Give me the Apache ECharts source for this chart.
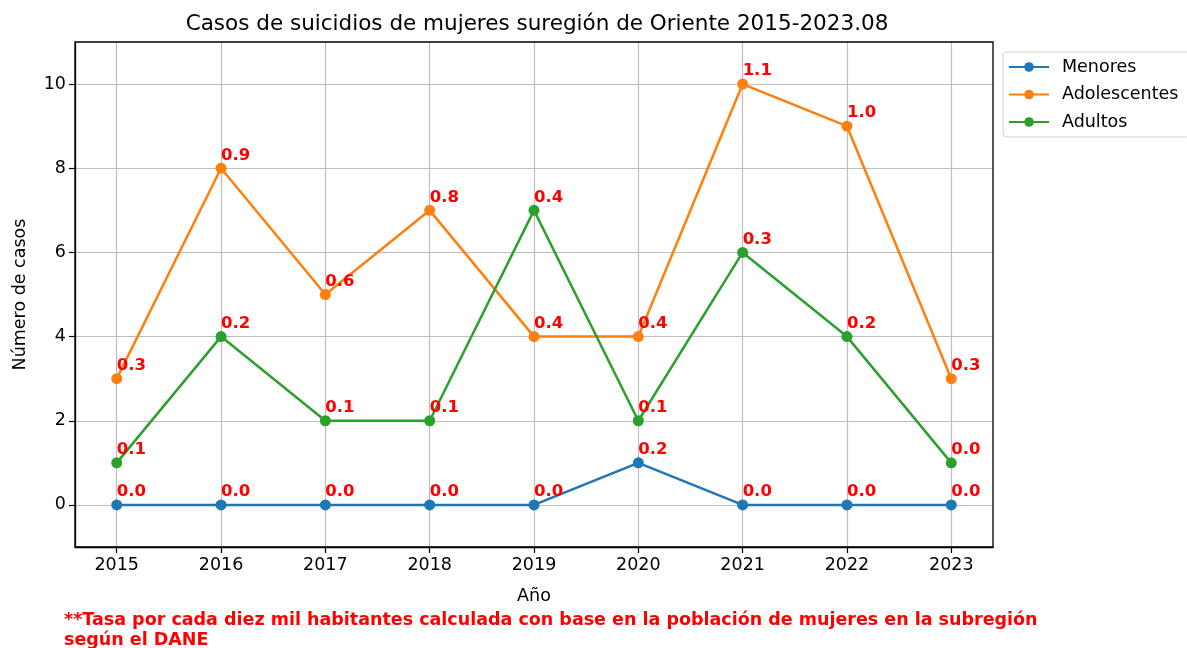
<!DOCTYPE html>
<html>
<head>
<meta charset="utf-8">
<script src="https://cdn.jsdelivr.net/npm/echarts@6/dist/echarts.min.js"></script>
<style>
  html, body { margin: 0; padding: 0; background: #fff; }
  #chart { width: 1187px; height: 648px; }
</style>
</head>
<body>
<div id="chart"></div>
<script>
// datos
const years = [2015, 2016, 2017, 2018, 2019, 2020, 2021, 2022, 2023]
const menores = [0, 0, 0, 0, 0, 1, 0, 0, 0]
const adolescentes = [3, 8, 5, 7, 4, 4, 10, 9, 3]
const adultos = [1, 4, 2, 2, 7, 2, 6, 4, 1]
// tasas por cada diez mil habitantes
const tasaMenores = ['0.0', '0.0', '0.0', '0.0', '0.0', '0.2', '0.0', '0.0', '0.0']
const tasaAdolescentes = ['0.3', '0.9', '0.6', '0.8', '0.4', '0.4', '1.1', '1.0', '0.3']
const tasaAdultos = ['0.1', '0.2', '0.1', '0.1', '0.4', '0.1', '0.3', '0.2', '0.0']
const yTicks = [0, 2, 4, 6, 8, 10]

const FONT = 'DejaVu Sans'
const chart = echarts.init(document.getElementById('chart'))

const makeSeries = (name, values, rates, color) => ({
  name,
  type: 'line',
  data: years.map((y, i) => [y, values[i]]),
  symbol: 'circle',
  symbolSize: 11,
  lineStyle: { color, width: 2.5 },
  itemStyle: { color },
  emphasis: { disabled: true },
  label: {
    show: true,
    position: 'top',
    align: 'left',
    distance: 0,
    offset: [0, 1],
    color: '#ff0000',
    fontWeight: 'bold',
    fontFamily: FONT,
    fontSize: 16.5,
    formatter: p => rates[p.dataIndex]
  }
})

const axisLine = { show: true, lineStyle: { color: '#000', width: 1.3 } }
const gridLine = { show: true, lineStyle: { color: '#bdbdbd', width: 1.2 } }

chart.setOption({
  animation: false,
  title: {
    text: 'Casos de suicidios de mujeres suregión de Oriente 2015-2023.08',
    left: 532,
    textAlign: 'center',
    top: 8,
    textStyle: { fontFamily: FONT, fontSize: 21.5, fontWeight: 'normal', color: '#000' }
  },
  legend: {
    orient: 'vertical',
    left: 1003,
    top: 52,
    itemWidth: 40,
    itemHeight: 12,
    itemGap: 9.5,
    padding: [6, 12, 6, 5],
    borderColor: '#d0d0d0',
    borderWidth: 1,
    borderRadius: 4,
    textStyle: { fontFamily: FONT, fontSize: 17.5, color: '#000', padding: [0, 0, 0, 8] },
    data: ['Menores', 'Adolescentes', 'Adultos']
  },
  grid: { left: 75, right: 194, top: 42, bottom: 101 },
  xAxis: {
    type: 'value',
    min: 2014.6,
    max: 2023.4,
    name: 'Año',
    nameLocation: 'middle',
    nameGap: 40,
    nameTextStyle: { fontFamily: FONT, fontSize: 17.5, color: '#000' },
    axisLine: { ...axisLine, onZero: false },
    axisTick: { show: true, length: 6, inside: false, customValues: years, lineStyle: { color: '#000', width: 1.2 } },
    axisLabel: { customValues: years, fontFamily: FONT, fontSize: 17.5, color: '#000', margin: 9, formatter: v => String(v) },
    splitLine: gridLine
  },
  yAxis: {
    type: 'value',
    min: -1,
    max: 11,
    name: 'Número de casos',
    nameLocation: 'middle',
    nameGap: 46,
    nameTextStyle: { fontFamily: FONT, fontSize: 17.5, color: '#000' },
    axisLine,
    axisTick: { show: true, length: 6, customValues: yTicks, lineStyle: { color: '#000', width: 1.2 } },
    axisLabel: { customValues: yTicks, fontFamily: FONT, fontSize: 17.5, color: '#000', margin: 9 },
    splitLine: gridLine
  },
  graphic: [
    {
      type: 'rect',
      shape: { x: 75, y: 42, width: 918, height: 505 },
      style: { fill: 'none', stroke: '#000', lineWidth: 1.3 },
      silent: true,
      z: 10
    },
    {
      type: 'text',
      left: 64,
      top: 610,
      style: {
        text: '**Tasa por cada diez mil habitantes calculada con base en la población de mujeres en la subregión\nsegún el DANE',
        fill: '#ff0000',
        font: 'bold 17.5px "DejaVu Sans"',
        lineHeight: 20
      }
    }
  ],
  series: [
    makeSeries('Menores', menores, tasaMenores, '#1f77b4'),
    makeSeries('Adolescentes', adolescentes, tasaAdolescentes, '#ff7f0e'),
    makeSeries('Adultos', adultos, tasaAdultos, '#2ca02c')
  ]
})
</script>
</body>
</html>
